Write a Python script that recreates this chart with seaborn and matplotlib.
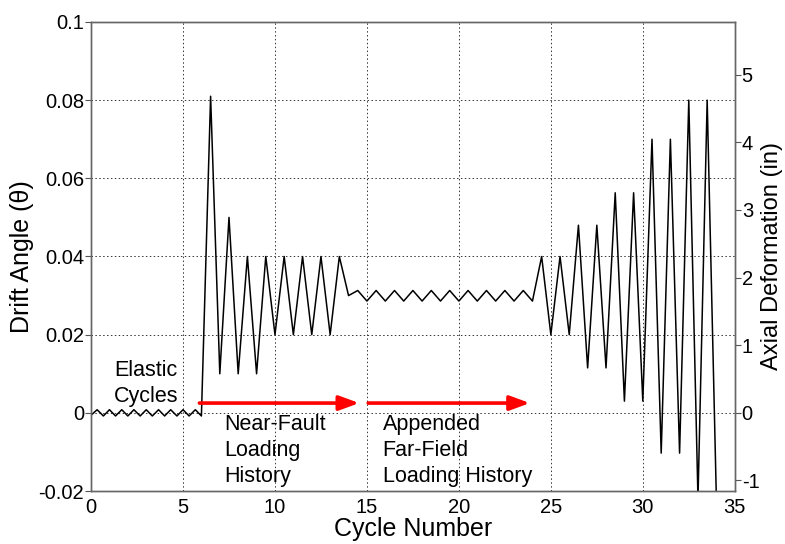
import matplotlib
matplotlib.use("Agg")
import matplotlib.pyplot as plt
import seaborn as sns
import pandas as pd

# Cycle number and drift angle of the loading protocol
cycles = [0.0, 0.33, 0.67, 1.0, 1.33, 1.67, 2.0, 2.33, 2.67, 3.0, 3.33, 3.67, 4.0,
          4.33, 4.67, 5.0, 5.33, 5.67, 6.0,
          6.5, 7.0, 7.5, 8.0, 8.5, 9.0, 9.5, 10.0, 10.5, 11.0, 11.5, 12.0, 12.5,
          13.0, 13.5, 14.0, 14.5, 15.0, 15.5, 16.0, 16.5, 17.0, 17.5, 18.0, 18.5,
          19.0, 19.5, 20.0, 20.5, 21.0, 21.5, 22.0, 22.5, 23.0, 23.5, 24.0,
          24.5, 25.0, 25.5, 26.0, 26.5, 27.0, 27.5, 28.0, 28.5, 29.0, 29.5, 30.0,
          30.5, 31.0, 31.5, 32.0, 32.5, 33.0, 33.5, 34.0]
drift = [-0.0006, 0.0008, -0.0008, 0.0008, -0.0008, 0.0008, -0.0008, 0.0008, -0.0008,
         0.0008, -0.0008, 0.0008, -0.0008, 0.0008, -0.0008, 0.0008, -0.0008, 0.0008,
         -0.0008,
         0.081, 0.010, 0.050, 0.010, 0.040, 0.010, 0.040, 0.020, 0.040, 0.020, 0.040,
         0.020, 0.040, 0.020, 0.040, 0.030, 0.0313, 0.0286, 0.0313, 0.0286, 0.0313,
         0.0286, 0.0313, 0.0286, 0.0313, 0.0286, 0.0313, 0.0286, 0.0313, 0.0286,
         0.0313, 0.0286, 0.0313, 0.0286, 0.0313, 0.0286,
         0.040, 0.020, 0.040, 0.020, 0.048, 0.0115, 0.048, 0.0115, 0.0563, 0.003,
         0.0563, 0.003, 0.070, -0.0103, 0.070, -0.0103, 0.080, -0.022, 0.080, -0.022]

x_ticks = [0, 5, 10, 15, 20, 25, 30, 35]
y_ticks = [-0.02, 0, 0.02, 0.04, 0.06, 0.08, 0.1]
y_tick_labels = ["-0.02", "0", "0.02", "0.04", "0.06", "0.08", "0.1"]
axial_ticks = [-1, 0, 1, 2, 3, 4, 5]

# inches of axial deformation per unit drift angle
inch_per_drift = 57.8

df = pd.DataFrame({"cycle": cycles, "drift": drift})

sns.set_style("white")
plt.rcParams["font.family"] = ["Liberation Sans", "DejaVu Sans"]
plt.rcParams["text.color"] = "black"
plt.rcParams["axes.labelcolor"] = "black"

fig = plt.figure(figsize=(7.85, 5.44), dpi=100)
ax = fig.add_axes([0.116, 0.0974, 0.82, 0.8622])

sns.lineplot(data=df, x="cycle", y="drift", sort=False, color="black",
             linewidth=1.1, ax=ax, estimator=None)

ax.set_xlim(0, 35)
ax.set_ylim(-0.02, 0.1)
ax.set_xticks(x_ticks)
ax.set_xticklabels([str(t) for t in x_ticks])
ax.set_yticks(y_ticks)
ax.set_yticklabels(y_tick_labels)
ax.tick_params(axis="both", direction="out", length=4, width=0.8,
               colors="#555555", labelcolor="black", labelsize=14.5, pad=1)
ax.grid(True, linestyle=(0, (1.5, 2.5)), color="#333333", linewidth=0.7)
ax.set_xlabel("Cycle Number", fontsize=18, labelpad=0)
ax.set_ylabel("Drift Angle (\u03b8)", fontsize=18, labelpad=3)
for s in ax.spines.values():
    s.set_color("#666666")
    s.set_linewidth(1.0)

ax2 = ax.twinx()
ax2.set_ylim(-0.02 * inch_per_drift, 0.1 * inch_per_drift)
ax2.set_yticks(axial_ticks)
ax2.set_yticklabels([str(t) for t in axial_ticks])
ax2.tick_params(axis="y", direction="out", length=4, width=0.8,
                colors="#555555", labelcolor="black", labelsize=14.5, pad=1)
ax2.set_ylabel("Axial Deformation (in)", fontsize=17, labelpad=1)
ax2.grid(False)
for s in ax2.spines.values():
    s.set_color("#666666")
    s.set_linewidth(1.0)

# phase annotations
txt = dict(fontsize=15.5, va="top", ha="left", linespacing=1.3)
ax.text(1.25, 0.0135, "Elastic\nCycles", **txt)
ax.text(7.25, -0.0004, "Near-Fault\nLoading\nHistory", **txt)
ax.text(15.85, -0.0004, "Appended\nFar-Field\nLoading History", **txt)

arrow = dict(arrowstyle="-|>,head_length=0.6,head_width=0.22", color="red",
             lw=2.6, shrinkA=0, shrinkB=0, mutation_scale=20)
ax.annotate("", xy=(14.58, 0.0025), xytext=(5.89, 0.0025), arrowprops=arrow)
ax.annotate("", xy=(23.86, 0.0025), xytext=(15.07, 0.0025), arrowprops=arrow)

fig.savefig("out.png", dpi=100)
